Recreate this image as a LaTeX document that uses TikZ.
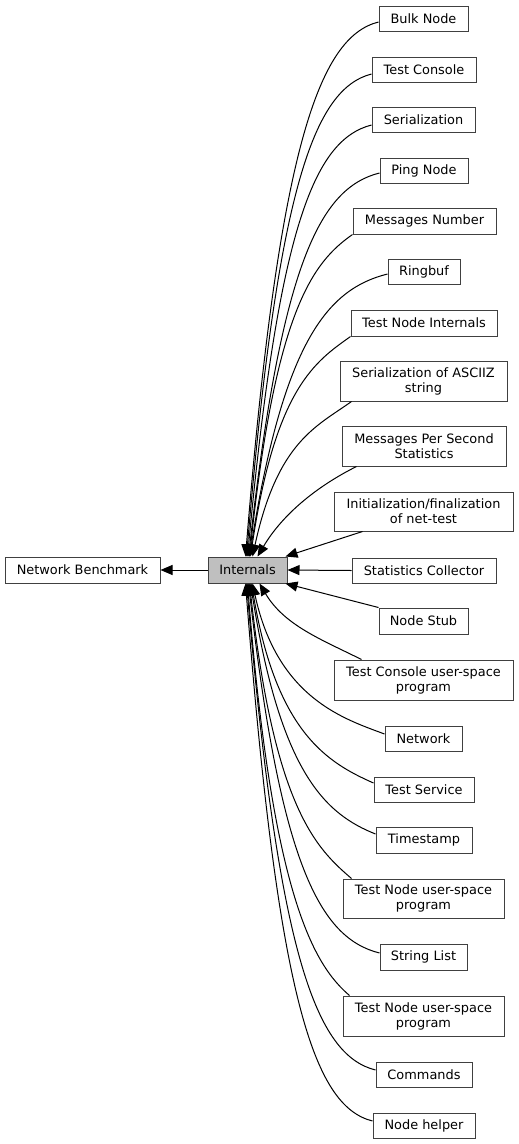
\documentclass[tikz,border=0pt]{standalone}
\usepackage{fontspec}
\setmainfont{DejaVu Sans}
\usetikzlibrary{arrows.meta}
\begin{document}
\begin{tikzpicture}[x=1pt,y=-1pt,
  box/.style={draw=black!75, line width=1pt, fill=white, inner sep=0pt, align=center,
    minimum height=25, font=\fontsize{12.9}{15}\selectfont},
  cur/.style={box, fill=black!25},
  edge/.style={line width=1pt, draw=black, -{Triangle[length=12pt,width=10pt]}}]
\useasboundingbox (0,0) rectangle (519,1144);

% nodes
\node[box, minimum width=155, minimum height=26] (nb) at (82.5,570) {Network Benchmark};
\node[cur, minimum width=79, minimum height=26] (int) at (247.5,570) {Internals};

\node[box, minimum width=89] (bulk) at (423.5,18.5) {Bulk Node};
\node[box, minimum width=104] (tcons) at (424,69.5) {Test Console};
\node[box, minimum width=103] (ser) at (423.5,119.5) {Serialization};
\node[box, minimum width=88] (ping) at (424,170.5) {Ping Node};
\node[box, minimum width=143, minimum height=26] (msgnum) at (424.5,221) {Messages Number};
\node[box, minimum width=72] (ringbuf) at (424,271.5) {Ringbuf};
\node[box, minimum width=146, minimum height=26] (tni) at (424,323) {Test Node Internals};
\node[box, minimum width=167, minimum height=40] (asciiz) at (423.5,381) {Serialization of ASCIIZ\\string};
\node[box, minimum width=164, minimum height=40] (mps) at (424,446) {Messages Per Second\\Statistics};
\node[box, minimum width=179, minimum height=39] (init) at (423.5,511.5) {Initialization/finalization\\of net-test};
\node[box, minimum width=144] (stats) at (424,570.5) {Statistics Collector};
\node[box, minimum width=89, minimum height=26] (nstub) at (423.5,621) {Node Stub};
\node[box, minimum width=179, minimum height=40] (tcusp) at (423.5,680) {Test Console user-space\\program};
\node[box, minimum width=77] (network) at (423.5,738.5) {Network};
\node[box, minimum width=100] (tserv) at (424,789.5) {Test Service};
\node[box, minimum width=96, minimum height=26] (tstamp) at (424,840) {Timestamp};
\node[box, minimum width=161, minimum height=39] (tnusp1) at (423.5,898.5) {Test Node user-space\\program};
\node[box, minimum width=87, minimum height=26] (strlist) at (423.5,957) {String List};
\node[box, minimum width=161, minimum height=40] (tnusp2) at (423.5,1016) {Test Node user-space\\program};
\node[box, minimum width=96] (cmds) at (424,1074.5) {Commands};
\node[box, minimum width=102] (nhelper) at (424,1125.5) {Node helper};

% edges
\draw[edge] (int.west) -- (nb.east);

\draw[edge] ([yshift=-3.5pt]bulk.west) .. controls +(-60,15) and +(33,-407) .. ([xshift=38pt]int.north west);
\draw[edge] ([yshift=-4.5pt]tcons.west) .. controls +(-58,15) and +(31,-367) .. ([xshift=39pt]int.north west);
\draw[edge] ([yshift=-5.5pt]ser.west) .. controls +(-58,15) and +(31,-328) .. ([xshift=40pt]int.north west);
\draw[edge] ([yshift=-2.5pt]ping.west) .. controls +(-60,15) and +(33,-292) .. ([xshift=41pt]int.north west);
\draw[edge] (msgnum.south west) .. controls +(-40,28) and +(26,-246) .. ([xshift=42pt]int.north west);
\draw[edge] ([yshift=-2.5pt]ringbuf.west) .. controls +(-60,15) and +(34,-215) .. ([xshift=42pt]int.north west);
\draw[edge] (tni.south west) .. controls +(-35,25) and +(25,-169) .. ([xshift=43pt]int.north west);
\draw[edge] ([xshift=12pt]asciiz.south west) .. controls +(-35,25) and +(25,-115) .. ([xshift=45pt]int.north west);
\draw[edge] ([xshift=15pt]mps.south west) .. controls +(-40,20) and +(25,-42) .. ([xshift=50pt]int.north west);
\draw[edge] ([xshift=29pt]init.south west) -- ([xshift=-2pt]int.north east);

\draw[edge] (stats.west) -- (int.east);

\draw[edge] (nstub.north west) -- ([xshift=-2pt]int.south east);
\draw[edge] ([xshift=28pt]tcusp.north west) .. controls +(-40,-20) and +(25,42) .. ([xshift=52pt]int.south west);
\draw[edge] ([yshift=4.5pt]network.west) .. controls +(-40,-15) and +(25,115) .. ([xshift=45pt]int.south west);
\draw[edge] ([yshift=6.5pt]tserv.west) .. controls +(-45,-20) and +(25,150) .. ([xshift=44pt]int.south west);
\draw[edge] ([yshift=6pt]tstamp.west) .. controls +(-50,-20) and +(30,190) .. ([xshift=43pt]int.south west);
\draw[edge] ([xshift=9pt]tnusp1.north west) .. controls +(-35,-30) and +(25,225) .. ([xshift=42pt]int.south west);
\draw[edge] ([yshift=4pt]strlist.west) .. controls +(-60,-15) and +(32,280) .. ([xshift=41pt]int.south west);
\draw[edge] ([xshift=7pt]tnusp2.north west) .. controls +(-35,-30) and +(25,315) .. ([xshift=40pt]int.south west);
\draw[edge] ([yshift=4.5pt]cmds.west) .. controls +(-60,-15) and +(32,370) .. ([xshift=39pt]int.south west);
\draw[edge] ([yshift=4.5pt]nhelper.west) .. controls +(-60,-15) and +(32,410) .. ([xshift=38pt]int.south west);
\end{tikzpicture}
\end{document}
